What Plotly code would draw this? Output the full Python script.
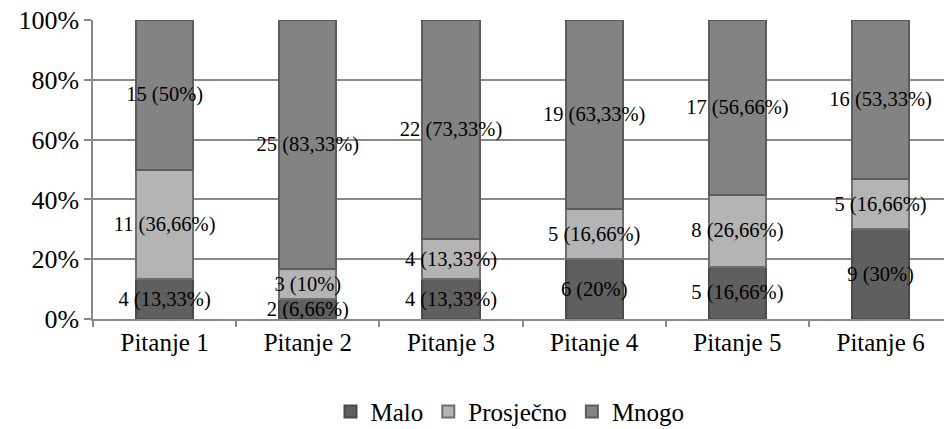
import plotly.graph_objects as go

categories = ["Pitanje 1", "Pitanje 2", "Pitanje 3", "Pitanje 4", "Pitanje 5", "Pitanje 6"]

# bar heights (percent)
malo = [13.33, 6.66, 13.33, 20.0, 17.4, 30.0]
prosjecno = [36.66, 10.0, 13.33, 16.66, 24.2, 16.66]
mnogo = [50.0, 83.33, 73.33, 63.33, 58.4, 53.33]

# data label contents
malo_n = [4, 2, 4, 6, 5, 9]
malo_pct = ["13,33", "6,66", "13,33", "20", "16,66", "30"]
prosjecno_n = [11, 3, 4, 5, 8, 5]
prosjecno_pct = ["36,66", "10", "13,33", "16,66", "26,66", "16,66"]
mnogo_n = [15, 25, 22, 19, 17, 16]
mnogo_pct = ["50", "83,33", "73,33", "63,33", "56,66", "53,33"]

y_ticks = [0, 20, 40, 60, 80, 100]
y_tick_labels = ["0%", "20%", "40%", "60%", "80%", "100%"]

FONT = "serif"

series = [
    ("Malo", malo, malo_n, malo_pct, "#5f5f5f", "#4a4a4a"),
    ("Prosječno", prosjecno, prosjecno_n, prosjecno_pct, "#b4b4b4", "#6e6e6e"),
    ("Mnogo", mnogo, mnogo_n, mnogo_pct, "#838383", "#5c5c5c"),
]

fig = go.Figure()
for name, vals, ns, pcts, fill, edge in series:
    labels = [f"{n} ({p}%)" for n, p in zip(ns, pcts)]
    fig.add_trace(go.Bar(
        name=name, x=categories, y=vals,
        marker=dict(color=fill, line=dict(color=edge, width=2)),
        text=labels, texttemplate="%{text}",
        textposition="inside", insidetextanchor="middle",
        constraintext="none", textangle=0,
        textfont=dict(family=FONT, size=20.5, color="black"),
        hoverinfo="skip",
    ))

fig.update_layout(
    barmode="stack",
    bargap=0.6,
    width=944, height=429,
    margin=dict(l=93, r=0, t=20, b=110, autoexpand=False),
    paper_bgcolor="white", plot_bgcolor="white",
    showlegend=True,
    legend=dict(
        orientation="h", x=0.49, xanchor="center", y=-0.31, yanchor="middle",
        font=dict(family=FONT, size=25, color="black"),
        itemwidth=30, tracegroupgap=0, traceorder="normal",
    ),
    xaxis=dict(
        range=[-0.5, 5.443],
        showline=True, linecolor="#8a8a8a", linewidth=1.5,
        ticks="outside", tickson="boundaries", ticklen=6, tickcolor="#8a8a8a", tickwidth=1.5,
        tickfont=dict(family=FONT, size=25, color="black"),
        showgrid=False,
    ),
    yaxis=dict(
        range=[0, 100], tickvals=y_ticks, ticktext=y_tick_labels,
        showline=True, linecolor="#8a8a8a", linewidth=1.5,
        ticks="outside", ticklen=7, tickcolor="#8a8a8a", tickwidth=1.5,
        gridcolor="#8a8a8a", gridwidth=1.5,
        tickfont=dict(family=FONT, size=26, color="black"),
        zeroline=False,
    ),
)

fig.write_html("out.html", config={"displayModeBar": False},
               post_script="document.body.style.margin='0';")
